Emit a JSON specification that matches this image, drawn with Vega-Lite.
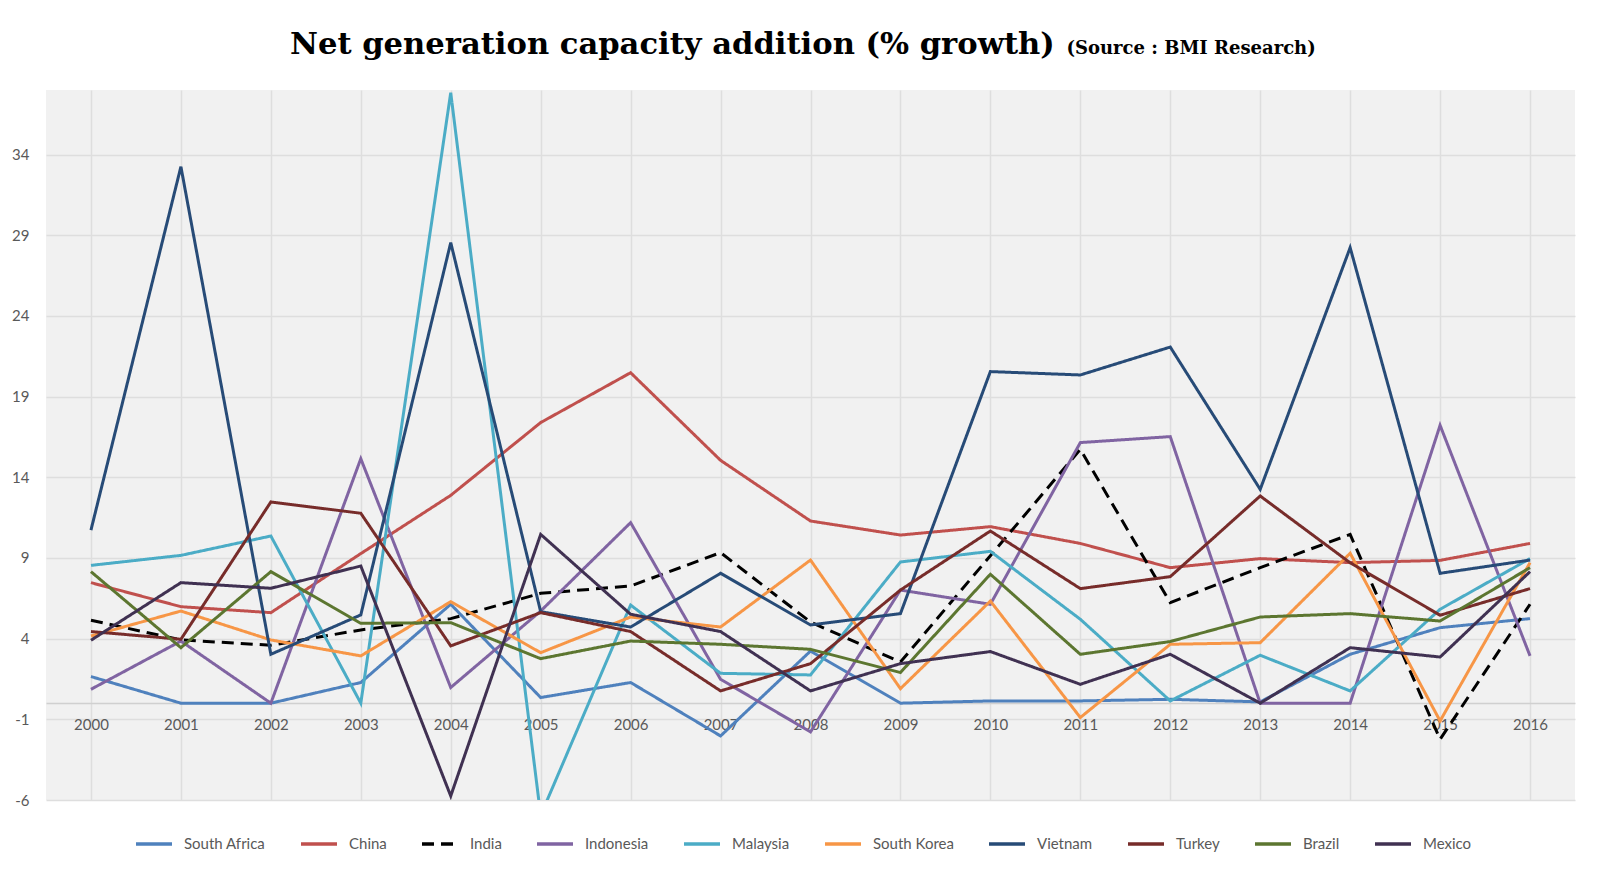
{
  "$schema": "https://vega.github.io/schema/vega-lite/v6.json",
  "width": 1529,
  "height": 710,
  "autosize": {"type": "none"},
  "padding": {"left": 46, "top": 90, "right": 25, "bottom": 76},
  "background": "white",
  "title": {
    "text": "Net generation capacity addition (% growth)",
    "anchor": "start",
    "frame": "group",
    "dx": 244,
    "dy": 52,
    "offset": 30,
    "font": "DejaVu Serif",
    "fontSize": 30.6,
    "fontWeight": "bold",
    "color": "#000000"
  },
  "data": {
    "values": [
      {"year": 2000, "country": "South Africa", "value": 1.65},
      {"year": 2001, "country": "South Africa", "value": 0},
      {"year": 2002, "country": "South Africa", "value": 0},
      {"year": 2003, "country": "South Africa", "value": 1.28},
      {"year": 2004, "country": "South Africa", "value": 6.13},
      {"year": 2005, "country": "South Africa", "value": 0.35},
      {"year": 2006, "country": "South Africa", "value": 1.28},
      {"year": 2007, "country": "South Africa", "value": -2.03},
      {"year": 2008, "country": "South Africa", "value": 3.23},
      {"year": 2009, "country": "South Africa", "value": 0},
      {"year": 2010, "country": "South Africa", "value": 0.14},
      {"year": 2011, "country": "South Africa", "value": 0.14},
      {"year": 2012, "country": "South Africa", "value": 0.24},
      {"year": 2013, "country": "South Africa", "value": 0.08},
      {"year": 2014, "country": "South Africa", "value": 3.03},
      {"year": 2015, "country": "South Africa", "value": 4.68},
      {"year": 2016, "country": "South Africa", "value": 5.24},

      {"year": 2000, "country": "China", "value": 7.47},
      {"year": 2001, "country": "China", "value": 5.98},
      {"year": 2002, "country": "China", "value": 5.61},
      {"year": 2003, "country": "China", "value": 9.27},
      {"year": 2004, "country": "China", "value": 12.88},
      {"year": 2005, "country": "China", "value": 17.39},
      {"year": 2006, "country": "China", "value": 20.48},
      {"year": 2007, "country": "China", "value": 15.05},
      {"year": 2008, "country": "China", "value": 11.29},
      {"year": 2009, "country": "China", "value": 10.42},
      {"year": 2010, "country": "China", "value": 10.94},
      {"year": 2011, "country": "China", "value": 9.9},
      {"year": 2012, "country": "China", "value": 8.4},
      {"year": 2013, "country": "China", "value": 8.96},
      {"year": 2014, "country": "China", "value": 8.71},
      {"year": 2015, "country": "China", "value": 8.85},
      {"year": 2016, "country": "China", "value": 9.9},

      {"year": 2000, "country": "India", "value": 5.14},
      {"year": 2001, "country": "India", "value": 3.92},
      {"year": 2002, "country": "India", "value": 3.59},
      {"year": 2003, "country": "India", "value": 4.54},
      {"year": 2004, "country": "India", "value": 5.24},
      {"year": 2005, "country": "India", "value": 6.81},
      {"year": 2006, "country": "India", "value": 7.26},
      {"year": 2007, "country": "India", "value": 9.33},
      {"year": 2008, "country": "India", "value": 5.03},
      {"year": 2009, "country": "India", "value": 2.55},
      {"year": 2010, "country": "India", "value": 9.14},
      {"year": 2011, "country": "India", "value": 15.73},
      {"year": 2012, "country": "India", "value": 6.23},
      {"year": 2013, "country": "India", "value": 8.4},
      {"year": 2014, "country": "India", "value": 10.46},
      {"year": 2015, "country": "India", "value": -2.24},
      {"year": 2016, "country": "India", "value": 6.13},

      {"year": 2000, "country": "Indonesia", "value": 0.86},
      {"year": 2001, "country": "Indonesia", "value": 3.85},
      {"year": 2002, "country": "Indonesia", "value": 0},
      {"year": 2003, "country": "Indonesia", "value": 15.15},
      {"year": 2004, "country": "Indonesia", "value": 0.97},
      {"year": 2005, "country": "Indonesia", "value": 5.71},
      {"year": 2006, "country": "Indonesia", "value": 11.19},
      {"year": 2007, "country": "Indonesia", "value": 1.48},
      {"year": 2008, "country": "Indonesia", "value": -1.78},
      {"year": 2009, "country": "Indonesia", "value": 7.01},
      {"year": 2010, "country": "Indonesia", "value": 6.13},
      {"year": 2011, "country": "Indonesia", "value": 16.15},
      {"year": 2012, "country": "Indonesia", "value": 16.52},
      {"year": 2013, "country": "Indonesia", "value": 0},
      {"year": 2014, "country": "Indonesia", "value": 0},
      {"year": 2015, "country": "Indonesia", "value": 17.22},
      {"year": 2016, "country": "Indonesia", "value": 2.93},

      {"year": 2000, "country": "Malaysia", "value": 8.54},
      {"year": 2001, "country": "Malaysia", "value": 9.16},
      {"year": 2002, "country": "Malaysia", "value": 10.36},
      {"year": 2003, "country": "Malaysia", "value": 0},
      {"year": 2004, "country": "Malaysia", "value": 37.83},
      {"year": 2005, "country": "Malaysia", "value": -6.95},
      {"year": 2006, "country": "Malaysia", "value": 6.08},
      {"year": 2007, "country": "Malaysia", "value": 1.85},
      {"year": 2008, "country": "Malaysia", "value": 1.75},
      {"year": 2009, "country": "Malaysia", "value": 8.75},
      {"year": 2010, "country": "Malaysia", "value": 9.41},
      {"year": 2011, "country": "Malaysia", "value": 5.2},
      {"year": 2012, "country": "Malaysia", "value": 0.14},
      {"year": 2013, "country": "Malaysia", "value": 2.97},
      {"year": 2014, "country": "Malaysia", "value": 0.76},
      {"year": 2015, "country": "Malaysia", "value": 5.82},
      {"year": 2016, "country": "Malaysia", "value": 8.96},

      {"year": 2000, "country": "South Korea", "value": 4.16},
      {"year": 2001, "country": "South Korea", "value": 5.71},
      {"year": 2002, "country": "South Korea", "value": 3.92},
      {"year": 2003, "country": "South Korea", "value": 2.93},
      {"year": 2004, "country": "South Korea", "value": 6.29},
      {"year": 2005, "country": "South Korea", "value": 3.13},
      {"year": 2006, "country": "South Korea", "value": 5.34},
      {"year": 2007, "country": "South Korea", "value": 4.72},
      {"year": 2008, "country": "South Korea", "value": 8.87},
      {"year": 2009, "country": "South Korea", "value": 0.9},
      {"year": 2010, "country": "South Korea", "value": 6.33},
      {"year": 2011, "country": "South Korea", "value": -0.89},
      {"year": 2012, "country": "South Korea", "value": 3.65},
      {"year": 2013, "country": "South Korea", "value": 3.75},
      {"year": 2014, "country": "South Korea", "value": 9.29},
      {"year": 2015, "country": "South Korea", "value": -1.1},
      {"year": 2016, "country": "South Korea", "value": 8.71},

      {"year": 2000, "country": "Vietnam", "value": 10.73},
      {"year": 2001, "country": "Vietnam", "value": 33.25},
      {"year": 2002, "country": "Vietnam", "value": 3.03},
      {"year": 2003, "country": "Vietnam", "value": 5.47},
      {"year": 2004, "country": "Vietnam", "value": 28.54},
      {"year": 2005, "country": "Vietnam", "value": 5.67},
      {"year": 2006, "country": "Vietnam", "value": 4.72},
      {"year": 2007, "country": "Vietnam", "value": 8.05},
      {"year": 2008, "country": "Vietnam", "value": 4.85},
      {"year": 2009, "country": "Vietnam", "value": 5.55},
      {"year": 2010, "country": "Vietnam", "value": 20.55},
      {"year": 2011, "country": "Vietnam", "value": 20.34},
      {"year": 2012, "country": "Vietnam", "value": 22.07},
      {"year": 2013, "country": "Vietnam", "value": 13.25},
      {"year": 2014, "country": "Vietnam", "value": 28.23},
      {"year": 2015, "country": "Vietnam", "value": 8.05},
      {"year": 2016, "country": "Vietnam", "value": 8.87},

      {"year": 2000, "country": "Turkey", "value": 4.44},
      {"year": 2001, "country": "Turkey", "value": 3.96},
      {"year": 2002, "country": "Turkey", "value": 12.47},
      {"year": 2003, "country": "Turkey", "value": 11.77},
      {"year": 2004, "country": "Turkey", "value": 3.55},
      {"year": 2005, "country": "Turkey", "value": 5.61},
      {"year": 2006, "country": "Turkey", "value": 4.44},
      {"year": 2007, "country": "Turkey", "value": 0.76},
      {"year": 2008, "country": "Turkey", "value": 2.45},
      {"year": 2009, "country": "Turkey", "value": 7.01},
      {"year": 2010, "country": "Turkey", "value": 10.67},
      {"year": 2011, "country": "Turkey", "value": 7.1},
      {"year": 2012, "country": "Turkey", "value": 7.84},
      {"year": 2013, "country": "Turkey", "value": 12.84},
      {"year": 2014, "country": "Turkey", "value": 8.7},
      {"year": 2015, "country": "Turkey", "value": 5.45},
      {"year": 2016, "country": "Turkey", "value": 7.1},

      {"year": 2000, "country": "Brazil", "value": 8.15},
      {"year": 2001, "country": "Brazil", "value": 3.44},
      {"year": 2002, "country": "Brazil", "value": 8.15},
      {"year": 2003, "country": "Brazil", "value": 4.95},
      {"year": 2004, "country": "Brazil", "value": 4.99},
      {"year": 2005, "country": "Brazil", "value": 2.76},
      {"year": 2006, "country": "Brazil", "value": 3.85},
      {"year": 2007, "country": "Brazil", "value": 3.65},
      {"year": 2008, "country": "Brazil", "value": 3.34},
      {"year": 2009, "country": "Brazil", "value": 1.9},
      {"year": 2010, "country": "Brazil", "value": 7.99},
      {"year": 2011, "country": "Brazil", "value": 3.03},
      {"year": 2012, "country": "Brazil", "value": 3.82},
      {"year": 2013, "country": "Brazil", "value": 5.34},
      {"year": 2014, "country": "Brazil", "value": 5.55},
      {"year": 2015, "country": "Brazil", "value": 5.09},
      {"year": 2016, "country": "Brazil", "value": 8.4},

      {"year": 2000, "country": "Mexico", "value": 3.9},
      {"year": 2001, "country": "Mexico", "value": 7.47},
      {"year": 2002, "country": "Mexico", "value": 7.12},
      {"year": 2003, "country": "Mexico", "value": 8.5},
      {"year": 2004, "country": "Mexico", "value": -5.75},
      {"year": 2005, "country": "Mexico", "value": 10.46},
      {"year": 2006, "country": "Mexico", "value": 5.51},
      {"year": 2007, "country": "Mexico", "value": 4.44},
      {"year": 2008, "country": "Mexico", "value": 0.76},
      {"year": 2009, "country": "Mexico", "value": 2.45},
      {"year": 2010, "country": "Mexico", "value": 3.2},
      {"year": 2011, "country": "Mexico", "value": 1.17},
      {"year": 2012, "country": "Mexico", "value": 3.03},
      {"year": 2013, "country": "Mexico", "value": 0},
      {"year": 2014, "country": "Mexico", "value": 3.44},
      {"year": 2015, "country": "Mexico", "value": 2.86},
      {"year": 2016, "country": "Mexico", "value": 8.15}
    ]
  },
  "mark": {"type": "line", "strokeWidth": 3, "clip": true},
  "encoding": {
    "x": {
      "field": "year",
      "type": "quantitative",
      "scale": {"domain": [1999.5, 2016.5], "nice": false, "zero": false},
      "axis": {
        "title": null,
        "values": [2000, 2000.5, 2001, 2001.5, 2002, 2002.5, 2003, 2003.5, 2004, 2004.5, 2005, 2005.5, 2006, 2006.5, 2007, 2007.5, 2008, 2008.5, 2009, 2009.5, 2010, 2010.5, 2011, 2011.5, 2012, 2012.5, 2013, 2013.5, 2014, 2014.5, 2015, 2015.5, 2016],
        "format": "d",
        "labelExpr": "datum.value % 1 === 0 ? datum.label : ''",
        "offset": -97,
        "domainColor": "#d0d0d0",
        "domainWidth": 1.5,
        "ticks": false,
        "gridColor": "#dedede",
        "gridWidth": 1.5,
        "labelFont": "Lato",
        "labelFontSize": 15,
        "labelColor": "#595959",
        "labelPadding": 14
      }
    },
    "y": {
      "field": "value",
      "type": "quantitative",
      "scale": {"domain": [-6, 38], "nice": false, "zero": false},
      "axis": {
        "title": "(Source : BMI Research)",
        "titleAngle": 0,
        "titleX": 1020,
        "titleY": -37,
        "titleAlign": "left",
        "titleBaseline": "alphabetic",
        "titleFont": "DejaVu Serif",
        "titleFontSize": 18,
        "titleFontWeight": "bold",
        "titleColor": "#000000",
        "values": [-6, -1, 4, 9, 14, 19, 24, 29, 34],
        "labelExpr": "replace(datum.label, '\u2212', '-')",
        "domain": false,
        "ticks": false,
        "gridColor": "#dedede",
        "gridWidth": 1.5,
        "labelFont": "Lato",
        "labelFontSize": 15,
        "labelColor": "#595959",
        "labelPadding": 17
      }
    },
    "color": {
      "field": "country",
      "type": "nominal",
      "scale": {
        "domain": ["South Africa", "China", "India", "Indonesia", "Malaysia", "South Korea", "Vietnam", "Turkey", "Brazil", "Mexico"],
        "range": ["#4F81BD", "#C0504D", "#000000", "#8064A2", "#4BACC6", "#F79646", "#274B77", "#772C2A", "#5C7630", "#403152"]
      },
      "legend": {
        "title": null,
        "orient": "none",
        "legendX": 88,
        "legendY": 734,
        "direction": "horizontal",
        "columns": 10,
        "symbolType": "stroke",
        "symbolSize": 1296,
        "symbolStrokeWidth": 3.5,
        "labelFont": "Lato",
        "labelFontSize": 15,
        "labelColor": "#595959",
        "labelOffset": 10,
        "columnPadding": 28,
        "labelLimit": 200
      }
    },
    "strokeDash": {
      "field": "country",
      "type": "nominal",
      "scale": {
        "domain": ["South Africa", "China", "India", "Indonesia", "Malaysia", "South Korea", "Vietnam", "Turkey", "Brazil", "Mexico"],
        "range": [[1, 0], [1, 0], [12, 7], [1, 0], [1, 0], [1, 0], [1, 0], [1, 0], [1, 0], [1, 0]]
      },
      "legend": {
        "title": null,
        "orient": "none",
        "legendX": 88,
        "legendY": 734,
        "direction": "horizontal",
        "columns": 10,
        "symbolType": "stroke",
        "symbolSize": 1296,
        "symbolStrokeWidth": 3.5,
        "labelFont": "Lato",
        "labelFontSize": 15,
        "labelColor": "#595959",
        "labelOffset": 10,
        "columnPadding": 28,
        "labelLimit": 200
      }
    }
  },
  "config": {
    "view": {"fill": "#f1f1f1", "stroke": null}
  }
}
